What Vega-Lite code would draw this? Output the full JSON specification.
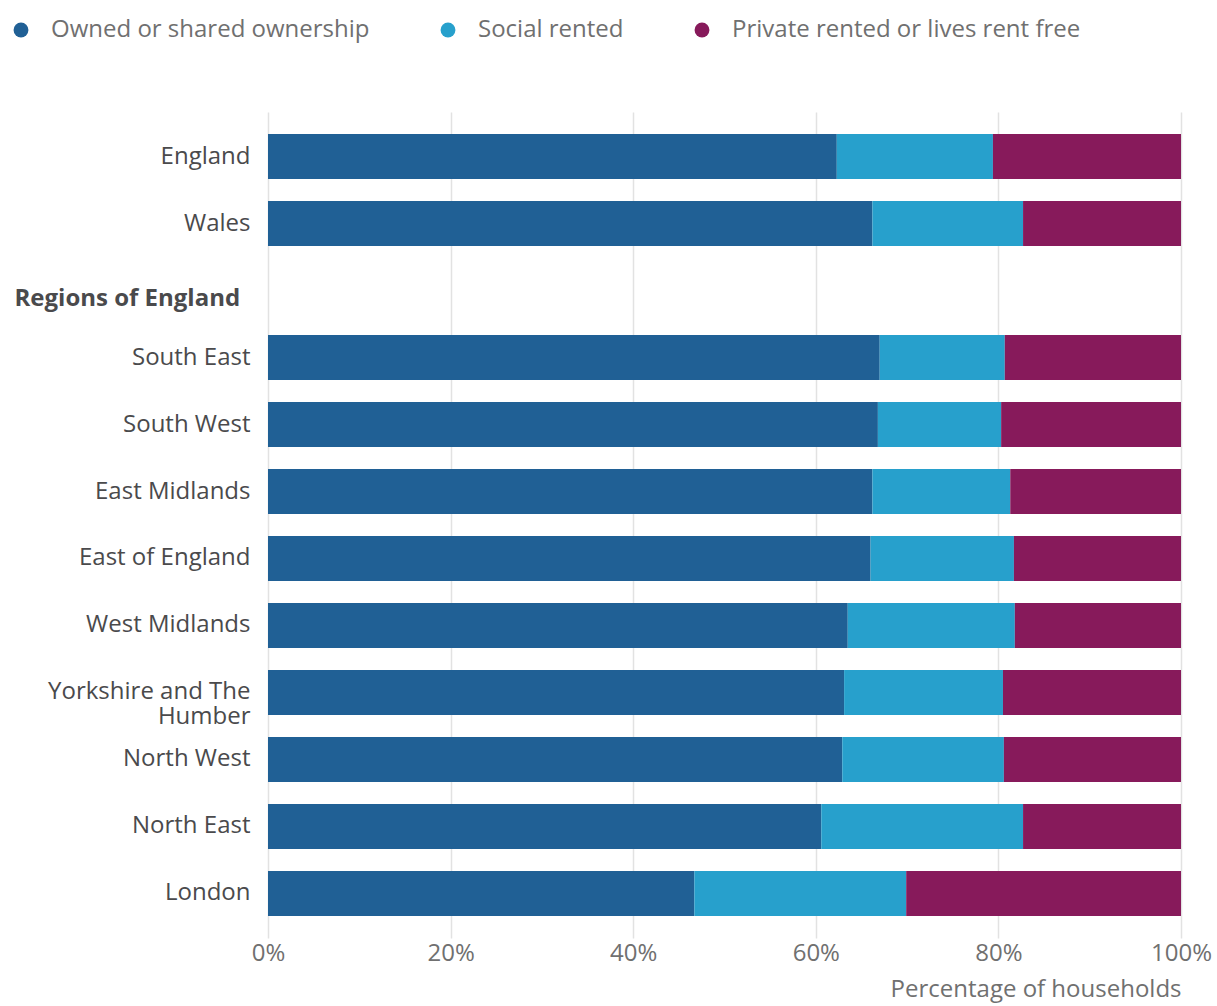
{
  "$schema": "https://vega.github.io/schema/vega-lite/v6.json",
  "width": 913,
  "height": 826,
  "autosize": {"type": "none"},
  "padding": {"left": 268, "top": 112, "right": 36, "bottom": 68},
  "background": "white",
  "config": {
    "font": "Open Sans",
    "view": {"stroke": null}
  },
  "data": {
    "values": [
      {"area": "England", "tenure": "Owned or shared ownership", "k": 1, "pct": 62.3},
      {"area": "England", "tenure": "Social rented", "k": 2, "pct": 17.1},
      {"area": "England", "tenure": "Private rented or lives rent free", "k": 3, "pct": 20.6},
      {"area": "Wales", "tenure": "Owned or shared ownership", "k": 1, "pct": 66.2},
      {"area": "Wales", "tenure": "Social rented", "k": 2, "pct": 16.5},
      {"area": "Wales", "tenure": "Private rented or lives rent free", "k": 3, "pct": 17.3},
      {"area": "South East", "tenure": "Owned or shared ownership", "k": 1, "pct": 67.0},
      {"area": "South East", "tenure": "Social rented", "k": 2, "pct": 13.7},
      {"area": "South East", "tenure": "Private rented or lives rent free", "k": 3, "pct": 19.3},
      {"area": "South West", "tenure": "Owned or shared ownership", "k": 1, "pct": 66.8},
      {"area": "South West", "tenure": "Social rented", "k": 2, "pct": 13.5},
      {"area": "South West", "tenure": "Private rented or lives rent free", "k": 3, "pct": 19.7},
      {"area": "East Midlands", "tenure": "Owned or shared ownership", "k": 1, "pct": 66.2},
      {"area": "East Midlands", "tenure": "Social rented", "k": 2, "pct": 15.1},
      {"area": "East Midlands", "tenure": "Private rented or lives rent free", "k": 3, "pct": 18.7},
      {"area": "East of England", "tenure": "Owned or shared ownership", "k": 1, "pct": 66.0},
      {"area": "East of England", "tenure": "Social rented", "k": 2, "pct": 15.7},
      {"area": "East of England", "tenure": "Private rented or lives rent free", "k": 3, "pct": 18.3},
      {"area": "West Midlands", "tenure": "Owned or shared ownership", "k": 1, "pct": 63.5},
      {"area": "West Midlands", "tenure": "Social rented", "k": 2, "pct": 18.3},
      {"area": "West Midlands", "tenure": "Private rented or lives rent free", "k": 3, "pct": 18.2},
      {"area": "Yorkshire and The Humber", "tenure": "Owned or shared ownership", "k": 1, "pct": 63.1},
      {"area": "Yorkshire and The Humber", "tenure": "Social rented", "k": 2, "pct": 17.4},
      {"area": "Yorkshire and The Humber", "tenure": "Private rented or lives rent free", "k": 3, "pct": 19.5},
      {"area": "North West", "tenure": "Owned or shared ownership", "k": 1, "pct": 62.9},
      {"area": "North West", "tenure": "Social rented", "k": 2, "pct": 17.7},
      {"area": "North West", "tenure": "Private rented or lives rent free", "k": 3, "pct": 19.4},
      {"area": "North East", "tenure": "Owned or shared ownership", "k": 1, "pct": 60.6},
      {"area": "North East", "tenure": "Social rented", "k": 2, "pct": 22.1},
      {"area": "North East", "tenure": "Private rented or lives rent free", "k": 3, "pct": 17.3},
      {"area": "London", "tenure": "Owned or shared ownership", "k": 1, "pct": 46.7},
      {"area": "London", "tenure": "Social rented", "k": 2, "pct": 23.2},
      {"area": "London", "tenure": "Private rented or lives rent free", "k": 3, "pct": 30.1}
    ]
  },
  "mark": {"type": "bar", "strokeWidth": 0},
  "encoding": {
    "y": {
      "field": "area",
      "type": "nominal",
      "scale": {
        "domain": ["England", "Wales", "Regions of England", "South East", "South West", "East Midlands", "East of England", "West Midlands", "Yorkshire and The Humber", "North West", "North East", "London"],
        "paddingInner": 0.33,
        "paddingOuter": 0.33
      },
      "axis": {
        "title": null,
        "domain": false,
        "ticks": false,
        "tickSize": 0,
        "labelFontSize": 24,
        "labelColor": "#4a4a4c",
        "labelLineHeight": 25,
        "labelLimit": 400,
        "labelExpr": "datum.value == 'Yorkshire and The Humber' ? ['Yorkshire and The', 'Humber'] : datum.value",
        "labelPadding": {"condition": {"test": "datum.value == 'Regions of England'", "value": 254}, "value": 18},
        "labelAlign": {"condition": {"test": "datum.value == 'Regions of England'", "value": "left"}, "value": "right"},
        "labelFontWeight": {"condition": {"test": "datum.value == 'Regions of England'", "value": "bold"}, "value": "normal"},
        "labelOffset": {"condition": {"test": "datum.value == 'Regions of England'", "value": 8}, "value": 0}
      }
    },
    "x": {
      "field": "pct",
      "type": "quantitative",
      "stack": "zero",
      "scale": {"domain": [0, 100], "nice": false},
      "axis": {
        "title": "Percentage of households",
        "titleAnchor": "end",
        "titleFontSize": 24,
        "titleFontWeight": "normal",
        "titleColor": "#707070",
        "titlePadding": 12,
        "values": [0, 20, 40, 60, 80, 100],
        "labelExpr": "datum.value + '%'",
        "labelFontSize": 24,
        "labelColor": "#707070",
        "labelPadding": 3,
        "labelFlush": false,
        "domain": false,
        "ticks": false,
        "grid": true,
        "gridColor": "#e2e2e2",
        "gridWidth": 1.5
      }
    },
    "color": {
      "field": "tenure",
      "type": "nominal",
      "scale": {
        "domain": ["Owned or shared ownership", "Social rented", "Private rented or lives rent free"],
        "range": ["#206095", "#27a0cc", "#871a5b"]
      },
      "legend": {
        "title": null,
        "orient": "none",
        "legendX": -259,
        "legendY": -94,
        "direction": "horizontal",
        "symbolType": "circle",
        "symbolSize": 220,
        "symbolStrokeWidth": 0,
        "labelFontSize": 24,
        "labelColor": "#707070",
        "labelOffset": 18,
        "columnPadding": 66,
        "labelLimit": 500,
        "padding": 0
      }
    },
    "order": {"field": "k", "type": "quantitative"}
  }
}
